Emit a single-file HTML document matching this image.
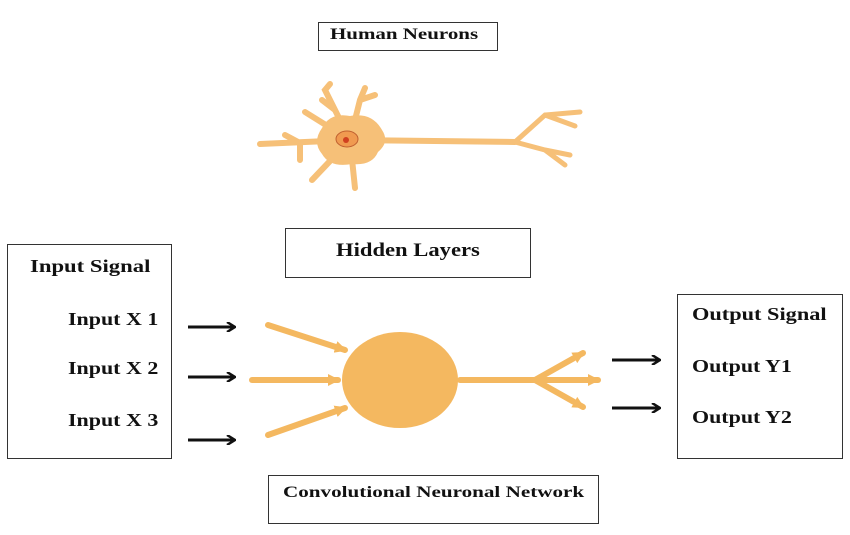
<!DOCTYPE html>
<html><head><style>
body{margin:0;background:#fff;width:850px;height:535px;overflow:hidden;position:relative;font-family:"Liberation Serif",serif;font-weight:bold;color:#111}
.b{position:absolute;border:1.5px solid #333;box-sizing:border-box}
.t{position:absolute;white-space:nowrap;font-size:18px;transform-origin:0 50%;transform:scaleX(1.22)}
</style></head><body>
<div class="b" style="left:318px;top:22px;width:180px;height:29px"></div>
<div class="t" style="left:330px;top:26px;font-size:16px;transform:scaleX(1.31)">Human Neurons</div>
<div class="b" style="left:285px;top:228px;width:246px;height:50px"></div>
<div class="t" style="left:336px;top:240px;font-size:19px;transform:scaleX(1.19)">Hidden Layers</div>
<div class="b" style="left:7px;top:244px;width:165px;height:215px"></div>
<div class="t" style="left:30px;top:256px;transform:scaleX(1.26)">Input Signal</div>
<div class="t" style="left:68px;top:309px">Input X 1</div>
<div class="t" style="left:68px;top:358px">Input X 2</div>
<div class="t" style="left:68px;top:410px">Input X 3</div>
<div class="b" style="left:677px;top:294px;width:166px;height:165px"></div>
<div class="t" style="left:692px;top:304px;transform:scaleX(1.24)">Output Signal</div>
<div class="t" style="left:692px;top:356px">Output Y1</div>
<div class="t" style="left:692px;top:407px">Output Y2</div>
<div class="b" style="left:268px;top:475px;width:331px;height:49px"></div>
<div class="t" style="left:283px;top:484px;font-size:16px;transform:scaleX(1.32)">Convolutional Neuronal Network</div>
<svg width="850" height="535" style="position:absolute;left:0;top:0">
<defs>
<marker id="k" markerWidth="10" markerHeight="10" refX="8" refY="5" orient="auto" markerUnits="userSpaceOnUse"><path d="M1,0 L9,5 L1,10" fill="none" stroke="#111" stroke-width="2.5"/></marker>
<marker id="o" markerWidth="12" markerHeight="12" refX="10" refY="6" orient="auto" markerUnits="userSpaceOnUse"><path d="M0,0 L12,6 L0,12z" fill="#f4b860"/></marker>
</defs>
<g stroke="#111" stroke-width="3" marker-end="url(#k)">
<line x1="188" y1="327" x2="234" y2="327"/><line x1="188" y1="377" x2="234" y2="377"/><line x1="188" y1="440" x2="234" y2="440"/>
<line x1="612" y1="360" x2="659" y2="360"/><line x1="612" y1="408" x2="659" y2="408"/>
</g>
<g stroke="#f4b860" stroke-width="6" stroke-linecap="round">
<line x1="268" y1="325" x2="345" y2="350" marker-end="url(#o)"/>
<line x1="252" y1="380" x2="338" y2="380" marker-end="url(#o)"/>
<line x1="268" y1="435" x2="345" y2="408" marker-end="url(#o)"/>
<line x1="460" y1="380" x2="535" y2="380"/>
<line x1="535" y1="380" x2="583" y2="353" marker-end="url(#o)"/>
<line x1="535" y1="380" x2="598" y2="380" marker-end="url(#o)"/>
<line x1="535" y1="380" x2="583" y2="407" marker-end="url(#o)"/>
</g>
<ellipse cx="400" cy="380" rx="58" ry="48" fill="#f4b860"/>
<g stroke="#f6c078" stroke-linecap="round" fill="none">
<path d="M350,140 L515,142" stroke-width="6"/>
<path d="M515,142 L545,115 L580,112 M545,115 L575,126 M515,142 L545,150 L565,165 M545,150 L570,155" stroke-width="5"/>
<path d="M350,140 L325,90 L330,84 M335,110 L322,100 M350,140 L360,100 L365,88 M360,100 L375,95 M350,140 L260,144 M300,143 L285,135 M300,143 L300,160 M350,140 L312,180 M350,140 L355,188 M350,140 L305,112" stroke-width="6"/>
</g>
<path d="M322,128 Q330,112 350,116 Q372,112 382,130 Q390,142 378,152 Q372,166 352,164 Q330,168 322,154 Q312,142 322,128z" fill="#f6c078"/>
<ellipse cx="347" cy="139" rx="11" ry="8" fill="#f09a50" stroke="#c06030" stroke-width="1"/>
<circle cx="346" cy="140" r="3" fill="#d04020"/>
</svg>
</body></html>
